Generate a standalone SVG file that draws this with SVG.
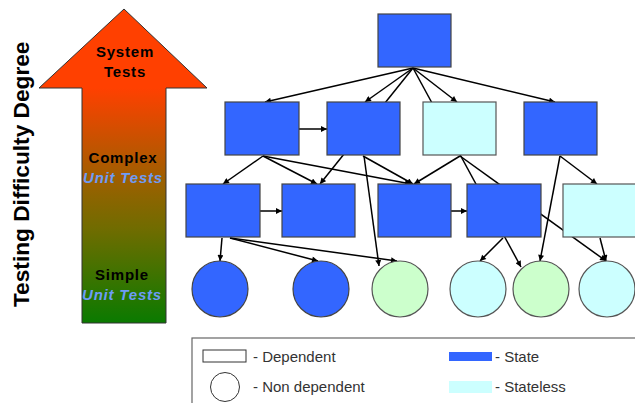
<svg xmlns="http://www.w3.org/2000/svg" width="635" height="403" viewBox="0 0 635 403">
<defs>
<linearGradient id="grad" gradientUnits="userSpaceOnUse" x1="0" y1="88" x2="0" y2="323">
<stop offset="0" stop-color="#FF4000"/>
<stop offset="0.455" stop-color="#8E6400"/>
<stop offset="0.6" stop-color="#706C00"/>
<stop offset="1" stop-color="#0A7A00"/>
</linearGradient>
<marker id="ah" viewBox="0 0 10 10" refX="10" refY="5" markerUnits="userSpaceOnUse" markerWidth="7" markerHeight="6" orient="auto">
<path d="M0,0 L10,5 L0,10 z" fill="#000"/>
</marker>
</defs>
<style>
.st{fill:#3366FF;stroke:#444;stroke-width:1.2}
.sl{fill:#CCFFFF;stroke:#555;stroke-width:1.2}
.gr{fill:#CCFFCC;stroke:#555;stroke-width:1.2}
.c line{stroke:#000;stroke-width:1.5;marker-end:url(#ah)}
.lbl{font-family:"Liberation Sans",Arial,sans-serif;font-size:15px;font-weight:bold;fill:#000;letter-spacing:0.8px;text-anchor:middle}
.ut{font-family:"Liberation Sans",Arial,sans-serif;font-size:15px;font-weight:bold;font-style:italic;fill:#6E9CF5;letter-spacing:0.8px;text-anchor:middle}
.lg{font-family:"Liberation Sans",Arial,sans-serif;font-size:15px;fill:#333}
</style>
<rect width="635" height="403" fill="#fff"/>

<g id="difficulty-arrow">
<polygon points="124,9 207,88 166,88 166,323 82,323 82,88 39,88" fill="url(#grad)" stroke="#333" stroke-width="1"/>
<text class="lbl" x="125" y="57">System</text>
<text class="lbl" x="125" y="77">Tests</text>
<text class="lbl" x="123" y="163">Complex</text>
<text class="ut" x="123" y="183">Unit Tests</text>
<text class="lbl" x="122" y="280">Simple</text>
<text class="ut" x="122" y="300">Unit Tests</text>
</g>
<text id="axis-title" transform="translate(28.5,174.3) rotate(-90)" text-anchor="middle" font-family="'Liberation Sans',Arial,sans-serif" font-size="22.7" font-weight="bold" fill="#000">Testing Difficulty Degree</text>

<g id="connectors" class="c">
<line x1="413" y1="68" x2="265" y2="102"/>
<line x1="413" y1="68" x2="365" y2="102"/>
<line x1="413" y1="68" x2="320" y2="184"/>
<line x1="413" y1="68" x2="457" y2="102"/>
<line x1="413" y1="68" x2="555" y2="102"/>
<line x1="413" y1="68" x2="521" y2="267"/>
<line x1="299" y1="129" x2="327" y2="129"/>
<line x1="263" y1="156" x2="223" y2="184"/>
<line x1="263" y1="156" x2="317" y2="184"/>
<line x1="263" y1="156" x2="411" y2="184"/>
<line x1="363" y1="156" x2="413" y2="184"/>
<line x1="364" y1="156" x2="379" y2="266"/>
<line x1="460" y1="156" x2="414" y2="184"/>
<line x1="460" y1="156" x2="606" y2="261"/>
<line x1="560" y1="156" x2="597" y2="184"/>
<line x1="560" y1="156" x2="540" y2="261"/>
<line x1="260" y1="211" x2="282" y2="211"/>
<line x1="451" y1="211" x2="467" y2="211"/>
<line x1="222" y1="238" x2="220" y2="261"/>
<line x1="230" y1="238" x2="318" y2="261"/>
<line x1="230" y1="238" x2="397" y2="261"/>
<line x1="503" y1="238" x2="480" y2="261"/>
<line x1="600" y1="238" x2="606" y2="261"/>
</g>

<g id="n-top"><rect class="st" x="378" y="14" width="73" height="53"/></g>
<g id="n-a"><rect class="st" x="225" y="102" width="74" height="53"/></g>
<g id="n-b"><rect class="st" x="327" y="102" width="73" height="53"/></g>
<g id="n-c"><rect class="sl" x="423" y="102" width="73" height="53"/></g>
<g id="n-d"><rect class="st" x="524" y="102" width="73" height="53"/></g>
<g id="n-e"><rect class="st" x="186" y="184" width="74" height="53"/></g>
<g id="n-f"><rect class="st" x="282" y="184" width="73" height="53"/></g>
<g id="n-g"><rect class="st" x="378" y="184" width="73" height="53"/></g>
<g id="n-h"><rect class="st" x="467" y="184" width="74" height="53"/></g>
<g id="n-i"><rect class="sl" x="563" y="184" width="73" height="53"/></g>
<g id="n-c1"><circle class="st" cx="220" cy="289" r="28"/></g>
<g id="n-c2"><circle class="st" cx="321" cy="289" r="28"/></g>
<g id="n-c3"><circle class="gr" cx="400" cy="289" r="28"/></g>
<g id="n-c4"><circle class="sl" cx="478" cy="289" r="28"/></g>
<g id="n-c5"><circle class="gr" cx="541" cy="289" r="28"/></g>
<g id="n-c6"><circle class="sl" cx="607" cy="289" r="28"/></g>

<g id="legend">
<rect x="192" y="338" width="460" height="80" fill="#fff" stroke="#666" stroke-width="1.2"/>
<rect x="203" y="350" width="43" height="12" fill="#fff" stroke="#333" stroke-width="1"/>
<text class="lg" x="253" y="362">- Dependent</text>
<circle cx="225" cy="387" r="14.5" fill="#fff" stroke="#333" stroke-width="1"/>
<text class="lg" x="253" y="392">- Non dependent</text>
<rect x="449" y="352" width="43" height="9" fill="#3366FF"/>
<text class="lg" x="495" y="362">- State</text>
<rect x="449" y="381" width="43" height="12" fill="#CCFFFF"/>
<text class="lg" x="495" y="392">- Stateless</text>
</g>
</svg>
